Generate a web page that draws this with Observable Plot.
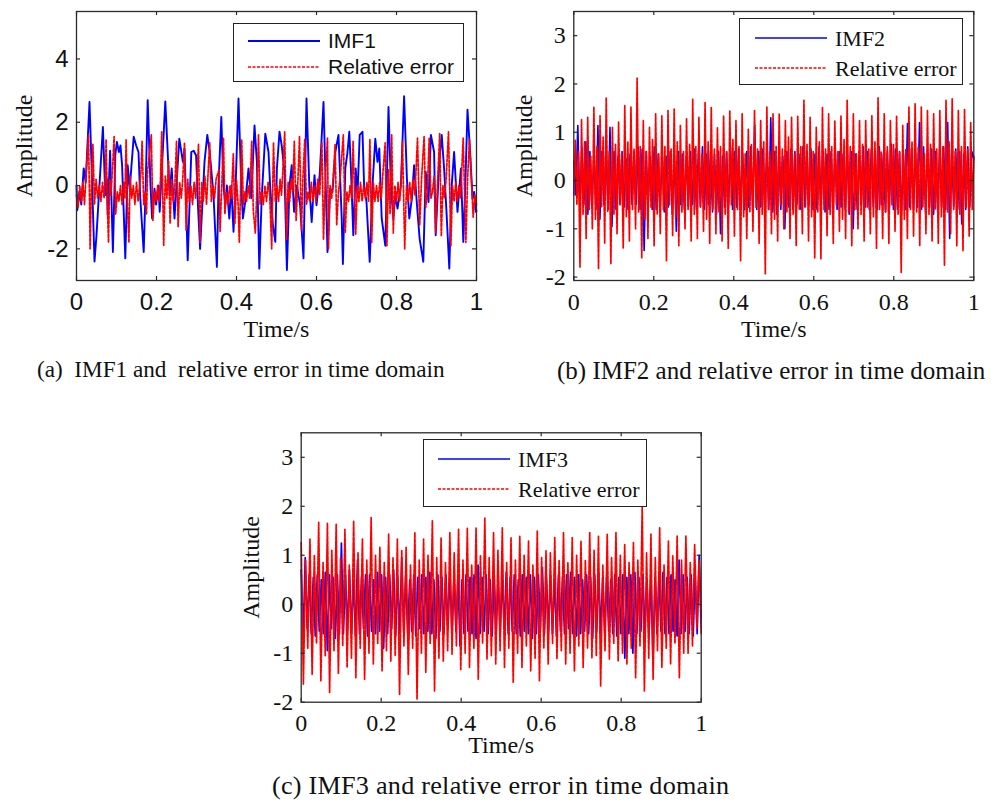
<!DOCTYPE html>
<html><head><meta charset="utf-8">
<script src="https://cdn.jsdelivr.net/npm/d3@7"></script>
<script src="https://cdn.jsdelivr.net/npm/@observablehq/plot@0.6"></script>
<style>
body{margin:0;background:#fff}
#root{position:relative;width:993px;height:800px;overflow:hidden;background:#fff}
.panel{position:absolute}
.cap{position:absolute;font-family:"Liberation Serif","Times New Roman",serif;white-space:pre;color:#111;line-height:1}
.legend{position:absolute;background:#fff;border:1.3px solid #222;box-sizing:border-box}
.legend svg{position:absolute;left:0;top:0}
</style></head><body>
<div id="root">
  <div id="pa" class="panel" style="left:0;top:0"></div>
  <div id="pb" class="panel" style="left:497px;top:0"></div>
  <div id="pc" class="panel" style="left:224px;top:421px"></div>
  <div class="cap" style="left:37px;top:358px;font-size:23.2px">(a)  IMF1 and  relative error in time domain</div>
  <div class="cap" style="left:557px;top:358px;font-size:25px">(b) IMF2 and relative error in time domain</div>
  <div class="cap" style="left:272px;top:773px;font-size:26.2px;letter-spacing:0.24px">(c) IMF3 and relative error in time domain</div>
</div>
<script>
// ---------- data ----------
const xTicks = [0, 0.2, 0.4, 0.6, 0.8, 1];
const yTicksA = [-2, 0, 2, 4];
const yTicksBC = [-2, -1, 0, 1, 2, 3];
const seriesNames = ["IMF1", "IMF2", "IMF3", "Relative error"];

// (a) IMF1 : extrema (time, amplitude)
const imf1Time = [0,0.002,0.007,0.012,0.018,0.023,0.0325,0.038,0.045,0.05,0.066,0.072,0.076,0.078,0.084,0.091,0.097,0.101,0.106,0.11,0.114,0.122,0.128,0.133,0.143,0.149,0.155,0.159,0.168,0.173,0.178,0.185,0.189,0.195,0.199,0.205,0.208,0.222,0.233,0.238,0.245,0.257,0.266,0.27,0.278,0.287,0.293,0.299,0.304,0.309,0.32,0.327,0.333,0.3425,0.351,0.355,0.362,0.3675,0.372,0.376,0.382,0.387,0.3925,0.397,0.405,0.412,0.416,0.422,0.43,0.437,0.445,0.451,0.457,0.463,0.472,0.48,0.484,0.491,0.497,0.501,0.5075,0.513,0.52,0.526,0.5325,0.538,0.544,0.551,0.559,0.5675,0.575,0.582,0.588,0.595,0.6,0.608,0.6175,0.623,0.6275,0.634,0.64,0.647,0.655,0.663,0.666,0.672,0.6775,0.682,0.686,0.692,0.698,0.7025,0.708,0.715,0.719,0.725,0.733,0.74,0.747,0.7525,0.757,0.763,0.772,0.78,0.786,0.792,0.797,0.8025,0.811,0.819,0.826,0.832,0.8385,0.844,0.8525,0.858,0.867,0.873,0.88,0.886,0.894,0.898,0.907,0.913,0.919,0.925,0.932,0.938,0.944,0.9525,0.961,0.967,0.972,0.9775,0.984,0.99,0.994,0.9985,1];
const imf1Amp = [0,-0.78,-0.2,-0.6,0.54,0.1,2.64,0.5,-2.4,-1.57,1.85,-0.3,0.2,-0.93,1.1,-2.1,0.96,1.38,1.06,1.27,0.64,-2.3,0.64,-0.1,1.54,1.27,1.06,-0.3,-2.1,0,2.7,0,-1.04,-0.1,-0.6,0,-0.83,2.66,-0.3,0.54,-1.04,1.48,0.75,1.17,-2.36,1.06,1.1,0.95,-0.73,-2.0,0.75,1.6,1.06,-0.3,-2.57,0,2.17,0,-0.62,0,-1.04,0,-1.46,-0.3,2.75,0,-1.04,-0.5,0.54,-0.4,1.9,0.75,-2.62,-0.4,1.64,1.06,0,-1.25,-1.78,0.54,1.7,1.27,0.43,-2.67,0,0.64,-0.83,0,-0.62,-2.3,2.75,0,-1.15,0.33,-0.62,0.33,2.64,0,-2.1,-0.1,-0.2,1.06,1.6,-1.04,-2.48,0.54,1.06,1.7,0.54,-1.57,0.54,-0.3,1.6,1.7,0,-0.52,-2.41,0,1.48,0.75,1.17,-1.04,-1.9,2.48,0,-1.04,-0.3,-0.73,0,2.82,0.22,-1.04,-0.4,0.64,-0.83,-1.7,-2.41,0.43,-0.52,1.6,1.06,-1.57,0.75,1.6,0.54,-0.83,-2.62,0,1.06,-0.83,0.54,-1.78,0,2.4,1.06,-0.4,-0.2,-0.83,-0.8];

// (a) relative error
const err1Time = [0,0.004,0.008,0.012,0.016,0.02,0.025,0.03,0.0325,0.034,0.038,0.041,0.045,0.049,0.053,0.057,0.061,0.065,0.069,0.072,0.074,0.077,0.08,0.083,0.086,0.09,0.094,0.098,0.102,0.106,0.11,0.114,0.118,0.121,0.124,0.127,0.131,0.134,0.138,0.142,0.146,0.15,0.154,0.158,0.161,0.164,0.168,0.172,0.175,0.178,0.187,0.191,0.195,0.199,0.203,0.207,0.21,0.213,0.218,0.222,0.226,0.23,0.234,0.238,0.242,0.246,0.25,0.254,0.258,0.262,0.266,0.27,0.274,0.278,0.282,0.286,0.29,0.294,0.298,0.301,0.305,0.309,0.313,0.317,0.321,0.325,0.329,0.333,0.337,0.341,0.345,0.349,0.356,0.359,0.3675,0.371,0.375,0.379,0.383,0.387,0.392,0.396,0.4,0.404,0.407,0.413,0.417,0.421,0.425,0.429,0.433,0.438,0.442,0.447,0.452,0.455,0.459,0.463,0.467,0.471,0.475,0.479,0.483,0.488,0.4925,0.497,0.501,0.505,0.509,0.5125,0.516,0.5205,0.525,0.529,0.533,0.537,0.5405,0.5445,0.549,0.553,0.5575,0.5625,0.566,0.5705,0.575,0.579,0.583,0.587,0.591,0.595,0.599,0.603,0.608,0.6135,0.6175,0.6225,0.6275,0.63,0.634,0.638,0.6415,0.6465,0.6505,0.655,0.6595,0.667,0.672,0.676,0.68,0.684,0.688,0.6915,0.698,0.702,0.706,0.71,0.714,0.718,0.722,0.726,0.73,0.7335,0.738,0.742,0.746,0.75,0.754,0.758,0.762,0.766,0.7717,0.776,0.78,0.784,0.788,0.792,0.796,0.8,0.804,0.808,0.812,0.815,0.8205,0.825,0.829,0.833,0.837,0.841,0.846,0.8525,0.858,0.863,0.869,0.873,0.877,0.8817,0.886,0.89,0.894,0.898,0.903,0.908,0.912,0.916,0.92,0.924,0.93,0.936,0.94,0.944,0.948,0.952,0.956,0.96,0.9667,0.9733,0.978,0.9825,0.9917,0.996,1];
const err1Amp = [-0.3,-0.7,0,-0.5,0.1,-0.6,0.6,1.6,-0.4,-2.0,0.4,1.3,-0.6,0.2,-0.4,0,-0.5,0.1,-0.4,0.3,1.45,-0.6,-1.8,0.2,-0.3,0.5,1.55,-0.9,-0.2,-0.5,0,-0.6,0.1,-0.4,1.45,-0.5,-1.8,0.3,-0.4,0,-0.6,0.1,-0.5,0,0.4,1.4,-0.6,-0.2,-0.9,0.5,1.6,-1.1,-0.2,-0.5,0,-0.5,0.2,1.7,-1.9,0.3,-0.4,0.8,-1.2,0.2,-0.5,0,1.4,-1.3,0.1,-0.4,0.3,1.35,-1.4,0.2,-0.5,0,-0.6,0.1,-0.4,0.3,1.3,-1.8,0.1,-0.5,0.3,-0.6,0.4,1.35,-0.5,0,-0.4,0.2,0.5,-1.45,1.5,-0.9,-0.2,-0.6,0,-0.4,1.0,-1.2,0.2,-0.6,-1.8,1.45,-0.6,-0.2,-0.5,0,-0.4,1.4,-0.8,-1.5,0.2,1.6,-0.6,-0.2,-0.6,0,-0.5,0.1,-0.3,-2.0,1.35,-0.5,0,-0.5,0.2,-0.3,0.5,1.7,-1.7,0.1,-0.5,0.2,-0.2,1.4,-1.1,0,1.55,-1.4,0.2,1.45,-0.6,-0.2,-0.5,0.1,-0.5,0,-0.5,0.2,-0.3,1.35,-1.7,0.4,1.5,-2.0,0,-0.4,0.2,1.3,-1.25,-0.2,0.3,1.6,-1.5,-0.2,-0.5,0,-0.4,1.4,-1.55,0,-0.5,0.1,-0.5,0,-0.4,0.1,-0.5,1.45,-1.8,0.1,-0.5,0,-0.5,0.1,-0.4,0.4,1.35,-1.9,0.5,-0.9,1.6,-1.5,0,-0.5,0.1,-0.5,0.2,1.4,-2.0,0,-0.5,0.1,-0.5,0.2,-0.3,1.5,-1.25,0.3,1.55,-0.7,-0.2,1.5,-0.4,-0.2,0.3,-1.5,0.2,1.65,-1.6,0,-0.4,0.2,1.7,-1.9,0,-0.5,0.1,-0.5,0,-0.4,1.5,-1.8,0.3,1.45,-1.0,-0.3,-0.6];

// (b) IMF2 : evenly sampled extrema over 0..1 s
const imf2Amp = [0.4,-0.3,1.14,-0.6,0.7,-0.5,0.8,-0.7,0.6,-0.55, 0.5,-0.6,1.14,-0.8,0.6,-0.5,0.7,-0.6,1.1,-0.95, 0.6,-0.6,0.5,-0.5,0.6,-0.55,0.45,-0.6,0.55,-0.5, 0.6,-0.5,0.7,-0.6,0.65,-1.45,0.6,-0.5,0.5,-0.6, 0.7,-0.6,0.55,-0.5,0.6,-0.65,0.5,-0.55,0.6,-0.7, 0.5,-1.05,0.6,-0.5,0.55,-0.6,0.5,-0.55,0.6,-0.5, 0.65,-0.6,0.6,-0.55,0.7,-0.6,0.55,-0.5,0.6,-0.65, 0.55,-0.7,0.6,-1.1,0.5,-0.55,0.6,-0.5,0.7,-0.6, 0.6,-0.55,0.65,-0.5,0.55,-0.6,0.6,-0.55,0.7,-0.6, 1.15,-0.6,0.6,-0.55,0.65,-0.5,0.6,-0.6,1.3,-0.65, 0.6,-0.7,0.55,-0.6,0.5,-1.0,0.6,-0.55,0.65,-0.6, 0.6,-0.5,0.55,-0.6,0.7,-0.55,0.6,-0.5,0.65,-0.6, 0.55,-0.6,0.7,-0.5,0.6,-0.65,0.55,-0.6,0.6,-0.5, 0.7,-0.6,0.6,-0.55,0.55,-0.6,0.65,-0.7,0.6,-1.0, 0.55,-0.6,0.6,-0.5,0.7,-0.55,0.6,-0.6,0.65,-0.55, 0.6,-0.6,0.7,-0.5,0.55,-0.65,0.6,-0.55,0.75,-0.6, 0.65,-0.6,0.6,-0.7,0.55,-0.6,1.18,-0.55,0.65,-0.6, 0.6,-0.55,1.2,-0.6,0.7,-0.65,0.6,-0.55,0.65,-0.7, 0.6,-0.6,0.65,-0.55,0.7,-0.6,1.2,-1.2,0.6,-0.55, 0.65,-0.6,0.6,-0.9,0.55,-0.6,0.7,-0.55,0.6,0.45];
// (b) relative error: per cycle a deep trough, a tall peak, then a smaller dip and bump
const err2Troughs = [-0.3,-1.79,-1.2,-1.0,-1.83,-1.3,-1.72,-1.1,-1.4,-1.25,-1.0,-1.6,-1.2,-1.35,-1.1,-1.66,-1.15,-1.35,-1.0,-1.25,-1.2,-1.05,-1.3,-1.1,-1.25,-1.4,-1.15,-1.66,-1.2,-1.05,-1.3,-1.93,-1.1,-1.25,-1.0,-1.2,-1.35,-1.1,-1.25,-1.6,-1.62,-1.15,-1.3,-1.05,-1.2,-1.35,-1.0,-1.25,-1.1,-1.4,-1.2,-1.3,-1.05,-1.9,-1.2,-1.15,-1.35,-1.1,-1.25,-1.3,-1.76,-1.1,-1.35,-1.45,-1.15];
const err2Peaks = [0.83,1.26,1.31,1.52,1.34,1.72,1.1,1.21,1.55,1.52,2.12,1.24,1.1,1.38,1.34,1.45,1.48,1.14,1.28,1.68,1.31,1.62,1.52,1.1,1.34,1.45,1.24,1.38,1.07,1.45,1.24,1.52,1.38,1.38,1.24,1.31,1.34,1.66,1.31,1.1,1.52,1.38,1.24,1.34,1.66,1.38,1.24,1.24,1.34,1.71,1.38,1.24,1.34,1.14,1.52,1.59,1.52,1.45,1.38,1.45,1.66,1.69,1.45,1.48,1.2];
const err2Dips = [-0.5,-0.7,-0.6,-0.8,-0.55,-0.65,-0.7,-0.5,-0.75,-0.6,-0.65,-0.8,-0.55,-0.7,-0.6,-0.5,-0.75,-0.65,-0.6,-0.7,-0.55,-0.8,-0.6,-0.65,-0.7,-0.5,-0.6,-0.75,-0.65,-0.55,-0.7,-0.6,-0.8,-0.5,-0.65,-0.7,-0.6,-0.55,-0.75,-0.65,-0.6,-0.7,-0.5,-0.8,-0.65,-0.6,-0.7,-0.55,-0.75,-0.6,-0.65,-0.5,-0.7,-0.8,-0.6,-0.65,-0.55,-0.7,-0.6,-0.75,-0.65,-0.6,-0.7,-0.55,-0.6];
const err2Bumps = [0.6,0.8,0.5,0.7,0.9,0.6,0.75,0.55,0.8,0.65,0.7,0.6,0.85,0.55,0.7,0.65,0.8,0.6,0.75,0.7,0.55,0.8,0.65,0.7,0.6,0.85,0.7,0.55,0.75,0.65,0.8,0.6,0.7,0.65,0.9,0.55,0.7,0.75,0.6,0.8,0.65,0.7,0.6,0.85,0.7,0.55,0.75,0.65,0.8,0.6,0.7,0.75,0.6,0.65,0.8,0.7,0.55,0.75,0.65,0.7,0.8,0.6,0.7,0.65,0.5];

// (c) IMF3 : evenly sampled extrema over 0..1 s
const imf3Amp = [0.7,-0.7,0.95,-0.5,0.6,-0.6,0.55,-0.65,0.6,-0.55, 0.5,-0.6,0.65,-0.95,0.6,-0.5,0.55,-0.7,0.6,-0.6, 1.25,-0.6,0.6,-0.55,0.7,-0.6,0.5,-0.65,0.9,-0.6, 0.55,-0.5,0.6,-0.65,0.6,-0.55,0.5,-0.6,0.65,-0.55, 0.6,-0.9,0.55,-0.6,0.6,-0.5,0.7,-0.65,0.55,-0.6, 0.95,-0.55,0.6,-0.6,0.5,-0.55,0.6,-0.65,0.55,-0.5, 0.6,-0.6,0.55,-0.55,0.65,-0.6,0.5,-0.7,0.6,-0.55, 0.55,-0.6,0.6,-0.5,0.65,-0.6,0.55,-0.55,0.6,-0.85, 0.5,-0.6,0.6,-0.55,0.55,-0.6,0.6,-0.7,0.8,-0.6, 0.55,-0.55,0.6,-0.6,0.5,-0.65,0.6,-0.55,0.55,-0.6, 0.6,-0.5,0.65,-0.6,0.55,-0.55,0.6,-0.6,0.5,-0.65, 0.6,-0.55,0.55,-0.6,0.6,-0.7,0.55,-0.6,0.6,-0.5, 0.75,-0.6,0.55,-0.55,0.6,-0.6,0.5,-0.65,0.6,-0.55, 0.55,-0.6,0.6,-0.5,0.65,-0.6,0.55,-0.65,0.6,-0.6, 0.5,-0.55,0.6,-0.6,0.55,-0.7,0.6,-0.55,0.65,-0.6, 0.55,-0.6,0.6,-0.55,0.5,-0.6,0.6,-0.65,0.55,-0.6, 0.6,-1.1,0.55,-0.6,0.6,-1.0,0.65,-0.6,0.55,-0.55, 0.6,-0.6,0.5,-0.65,0.6,-1.15,0.55,-0.6,0.6,-0.55, 0.65,-0.6,0.55,-0.6,0.6,-0.55,0.5,-0.65,0.9,-0.6, 0.6,-0.55,0.55,-0.6,0.6,-0.65,0.6,-0.6,1.0,-0.3];
// (c) relative error: per cycle a tall peak, a deep trough, then a medium bump and dip
const err3Peaks = [1.26,1.33,1.67,1.65,1.63,1.53,1.7,1.33,1.77,1.16,1.43,1.33,1.16,1.46,1.33,1.7,1.36,1.46,1.53,1.55,1.56,1.76,1.46,1.56,1.36,1.39,1.29,1.5,1.09,1.36,1.46,1.36,1.29,1.46,1.39,1.43,1.46,1.22,1.26,1.99,1.43,1.56,1.29,1.39,1.39,1.22];
const err3Troughs = [-1.63,-1.43,-1.56,-1.8,-1.41,-1.29,-1.5,-1.53,-1.22,-1.36,-1.16,-1.84,-1.43,-1.94,-1.39,-1.77,-1.16,-1.02,-1.33,-1.29,-1.53,-1.12,-1.22,-1.29,-1.6,-1.29,-1.36,-1.56,-1.22,-1.12,-1.22,-1.36,-1.29,-1.09,-1.67,-1.12,-1.16,-1.22,-1.5,-1.77,-1.53,-1.29,-1.22,-1.5,-1.0,-0.5];
const err3Bumps = [0.9,1.0,0.85,1.1,0.95,0.8,1.05,0.9,1.0,0.85,0.95,1.1,0.8,0.9,1.0,0.95,0.85,1.05,0.9,0.8,1.0,0.95,1.1,0.85,0.9,1.0,0.8,0.95,1.05,0.9,0.85,1.0,0.9,1.1,0.8,0.95,1.0,0.85,0.9,1.05,0.95,0.8,1.0,0.9,0.85,0.9];
const err3Dips = [-0.9,-0.8,-1.05,-0.95,-0.85,-1.1,-0.9,-1.0,-0.8,-0.95,-1.05,-0.85,-0.9,-1.0,-0.8,-1.1,-0.95,-0.85,-1.0,-0.9,-0.8,-1.05,-0.95,-0.9,-1.0,-0.85,-1.1,-0.9,-0.8,-0.95,-1.0,-0.85,-0.9,-1.05,-0.95,-0.8,-1.0,-0.9,-0.85,-1.1,-0.95,-0.9,-0.8,-1.0,-0.85,-0.6];

// ---------- build tables ----------
const serif = '"Liberation Serif","Times New Roman",Times,serif';
const sans = '"Liberation Sans",Arial,Helvetica,sans-serif';
const even = vals => vals.map((v, i) => ({t: i / (vals.length - 1), v}));
const paired = (ts, vs) => ts.map((t, i) => ({t, v: vs[i]}));
function interleave(...arrays) {
  const out = [];
  const n = Math.max(...arrays.map(a => a.length));
  for (let i = 0; i < n; i++) for (const a of arrays) if (i < a.length) out.push(a[i]);
  return out;
}
const A = {blue: paired(imf1Time, imf1Amp), red: paired(err1Time, err1Amp)};
const B = {blue: even(imf2Amp), red: even(interleave(err2Troughs, err2Peaks, err2Dips, err2Bumps))};
const C = {blue: even(imf3Amp), red: even(interleave(err3Peaks, err3Troughs, err3Bumps, err3Dips))};

function panel(o) {
  const W = 493, H = 345, FW = 400;
  const mb = H - o.mt - o.fh;
  return Plot.plot({
    width: W, height: H,
    marginLeft: o.ml, marginRight: W - o.ml - FW, marginTop: o.mt, marginBottom: mb,
    x: {domain: [0, 1]},
    y: {domain: o.yDomain},
    style: {background: "transparent", color: "#111", overflow: "visible"},
    marks: [
      Plot.line(o.data.blue, {x: "t", y: "v", stroke: "#0000ff", strokeWidth: o.bw, curve: "linear"}),
      Plot.line(o.data.red, {x: "t", y: "v", stroke: "#ff0000", strokeWidth: o.rw, strokeDasharray: o.dash, curve: "linear"}),
      Plot.frame({stroke: "#2a2a2a", strokeWidth: 1.3}),
      Plot.tickX(xTicks, {x: d => d, insetTop: o.fh - 4, stroke: "#2a2a2a", strokeWidth: 1.2}),
      Plot.tickX(xTicks, {x: d => d, insetBottom: o.fh - 4, stroke: "#2a2a2a", strokeWidth: 1.2}),
      Plot.tickY(o.yTicks, {y: d => d, insetRight: FW - 4, stroke: "#2a2a2a", strokeWidth: 1.2}),
      Plot.tickY(o.yTicks, {y: d => d, insetLeft: FW - 4, stroke: "#2a2a2a", strokeWidth: 1.2}),
      Plot.axisX(xTicks, {anchor: "bottom", tickSize: 0, tickPadding: 12, tickFormat: d => String(d), fontSize: o.tfs, fontFamily: o.tff, label: null}),
      Plot.axisY(o.yTicks, {anchor: "left", tickSize: 0, tickPadding: 8, tickFormat: d => String(d), fontSize: o.tfs, fontFamily: o.tff, label: null}),
      Plot.text(["Amplitude"], {frameAnchor: "left", textAnchor: "middle", lineAnchor: "middle", rotate: -90, dx: -o.ylabOff, fontFamily: serif, fontSize: 24, fill: "#111"}),
      Plot.text(["Time/s"], {frameAnchor: "bottom", textAnchor: "middle", lineAnchor: "middle", dy: o.xlabOff, fontFamily: serif, fontSize: 24, fill: "#111"})
    ]
  });
}

function legend(parent, o) {
  const d = document.createElement("div");
  d.className = "legend";
  Object.assign(d.style, {left: o.left + "px", top: o.top + "px", width: o.w + "px", height: o.h + "px"});
  const ns = "http://www.w3.org/2000/svg";
  const svg = document.createElementNS(ns, "svg");
  svg.setAttribute("width", o.w); svg.setAttribute("height", o.h);
  const rows = [{name: o.name, stroke: "#0000ff", dash: null, w: o.bw}, {name: seriesNames[3], stroke: "#ff0000", dash: "3,1.5", w: 1.3}];
  rows.forEach((r, i) => {
    const y = o.y0 + i * o.dy;
    const ln = document.createElementNS(ns, "line");
    ln.setAttribute("x1", o.x0); ln.setAttribute("x2", o.x1); ln.setAttribute("y1", y); ln.setAttribute("y2", y);
    ln.setAttribute("stroke", r.stroke); ln.setAttribute("stroke-width", r.w);
    if (r.dash) ln.setAttribute("stroke-dasharray", r.dash);
    svg.appendChild(ln);
    const tx = document.createElementNS(ns, "text");
    tx.setAttribute("x", o.tx); tx.setAttribute("y", y); tx.setAttribute("dy", "0.35em");
    tx.setAttribute("font-family", o.font); tx.setAttribute("font-size", o.fs); tx.setAttribute("fill", "#111");
    tx.textContent = r.name;
    svg.appendChild(tx);
  });
  d.appendChild(svg);
  parent.appendChild(d);
}

document.getElementById("pa").appendChild(panel({data: A, ml: 76, mt: 11, fh: 269, yDomain: [-3, 5.5], yTicks: yTicksA, tfs: 24, tff: sans, bw: 1.9, rw: 1.7, dash: "3,1.5", ylabOff: 52, xlabOff: 49}));
document.getElementById("pb").appendChild(panel({data: B, ml: 76.3, mt: 11, fh: 269, yDomain: [-2.07, 3.5], yTicks: yTicksBC, tfs: 24, tff: serif, bw: 1.6, rw: 1.7, dash: "4,1.2", ylabOff: 49, xlabOff: 49}));
document.getElementById("pc").appendChild(panel({data: C, ml: 76.7, mt: 11.3, fh: 269.4, yDomain: [-2, 3.5], yTicks: yTicksBC, tfs: 24, tff: serif, bw: 1.7, rw: 1.7, dash: "4,1.2", ylabOff: 50, xlabOff: 43}));

const root = document.getElementById("root");
legend(root, {left: 233, top: 23, w: 231, h: 59, x0: 14, x1: 86, tx: 94, y0: 17, dy: 26, name: seriesNames[0], font: sans, fs: 21, bw: 1.8});
legend(root, {left: 739, top: 18, w: 224, h: 67, x0: 15, x1: 87, tx: 95, y0: 19, dy: 30, name: seriesNames[1], font: serif, fs: 22, bw: 1.3});
legend(root, {left: 423, top: 439, w: 224, h: 68, x0: 14, x1: 86, tx: 94, y0: 19, dy: 30, name: seriesNames[2], font: serif, fs: 22, bw: 1.3});
</script>
</body></html>
